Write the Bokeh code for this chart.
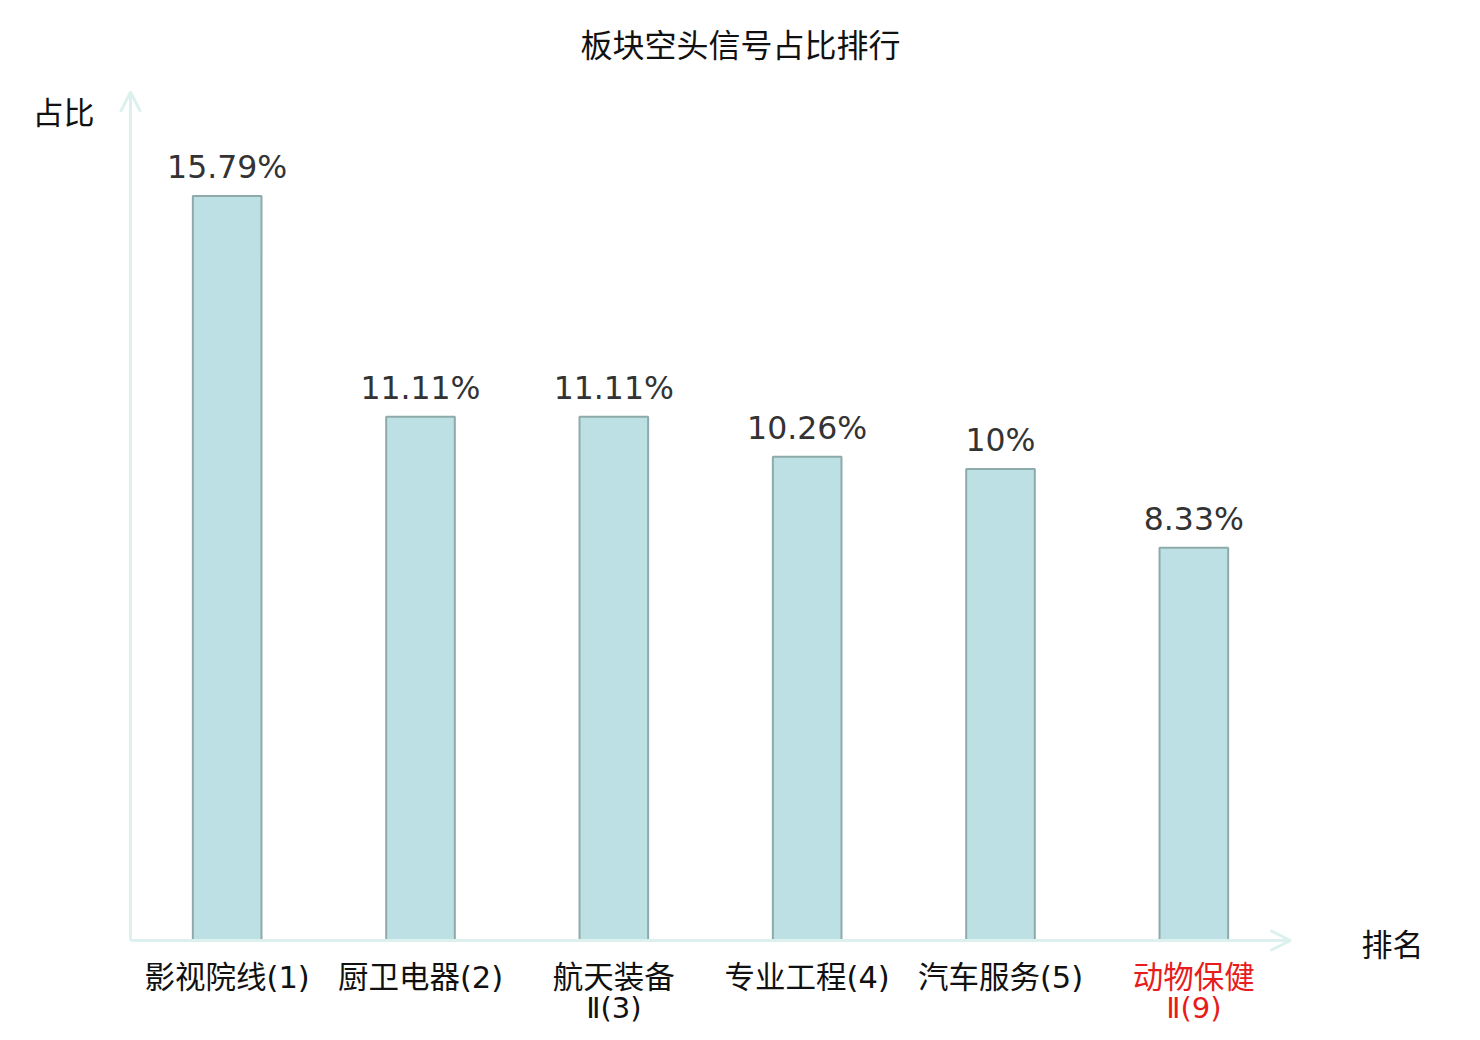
from bokeh.plotting import figure
from bokeh.models import Range1d, Arrow, OpenHead, Label, ColumnDataSource
from bokeh.core.properties import value
from bokeh.embed import file_html
from bokeh.resources import INLINE

# ---- data ----
categories = ["影视院线(1)", "厨卫电器(2)", "航天装备\nⅡ(3)", "专业工程(4)", "汽车服务(5)", "动物保健\nⅡ(9)"]
values = [15.79, 11.11, 11.11, 10.26, 10.0, 8.33]
value_labels = ["15.79%", "11.11%", "11.11%", "10.26%", "10%", "8.33%"]
label_colors = ["#111111", "#111111", "#111111", "#111111", "#111111", "#e81c1c"]
y_max = 18.0
title_text = "板块空头信号占比排行"
y_name = "占比"
x_name = "排名"

# ---- layout ----
W, H = 1464, 1024
ORIG_X, ORIG_Y = 130, 940          # canvas px of the axis origin (from left / from top)
PX_X = 1160 / len(categories)      # px per category band
PX_Y = 47.15                       # px per percentage point

x_range = Range1d(-ORIG_X / PX_X, (W - ORIG_X) / PX_X)
y_range = Range1d(-(H - ORIG_Y) / PX_Y, ORIG_Y / PX_Y)

def sx(px):
    return x_range.start + px / PX_X

def sy(py):
    return y_range.end - py / PX_Y

p = figure(width=W, height=H, x_range=x_range, y_range=y_range,
           output_backend="svg", toolbar_location=None,
           x_axis_location=None, y_axis_location=None,
           min_border=0, min_border_left=0, min_border_right=0,
           min_border_top=0, min_border_bottom=0)
p.outline_line_color = None
p.grid.visible = False
p.background_fill_color = "white"
p.border_fill_color = "white"

xs = [i + 0.5 for i in range(len(categories))]
line1 = [c.split("\n")[0] for c in categories]
line2 = [c.split("\n")[1] if "\n" in c else "" for c in categories]

src = ColumnDataSource(dict(x=xs, top=values, vl=value_labels, l1=line1, l2=line2,
                            lc=label_colors, zero=[0.0] * len(xs)))

AXIS_COLOR = "#dcf1ee"
LABEL_FONT = value("DejaVu Sans, Noto Sans CJK SC")

# axes with arrows
p.add_layout(Arrow(end=OpenHead(size=20, line_color=AXIS_COLOR, line_width=3),
                   x_start=0, y_start=0, x_end=len(categories), y_end=0,
                   line_color=AXIS_COLOR, line_width=3))
p.add_layout(Arrow(end=OpenHead(size=20, line_color=AXIS_COLOR, line_width=3),
                   x_start=0, y_start=0, x_end=0, y_end=y_max,
                   line_color=AXIS_COLOR, line_width=3))

# bars
p.vbar(x="x", top="top", bottom=0, width=0.355, source=src,
       fill_color="#bce0e3", line_color="#8eaaab", line_width=2)

# value labels
p.text(x="x", y="top", text="vl", source=src, text_align="center",
       text_baseline="middle", y_offset=-29,
       text_font=value("DejaVu Sans"), text_font_size="31.5px", text_color="#333333")

# category labels
p.text(x="x", y="zero", text="l1", source=src, text_align="center",
       text_baseline="middle", y_offset=37, text_color="lc",
       text_font=LABEL_FONT, text_font_size="30.5px")
p.text(x="x", y="zero", text="l2", source=src, text_align="center",
       text_baseline="middle", y_offset=67, text_color="lc",
       text_font=LABEL_FONT, text_font_size="29px")

# title and axis names
p.add_layout(Label(x=sx(740), y=sy(42), text=title_text, text_align="center",
                   text_baseline="middle", text_font="Noto Sans CJK SC",
                   text_font_size="32px", text_color="#111111"))
p.add_layout(Label(x=sx(63), y=sy(110), text=y_name, text_align="center",
                   text_baseline="middle", text_font="Noto Sans CJK SC",
                   text_font_size="31px", text_color="#111111"))
p.add_layout(Label(x=sx(1392), y=sy(942), text=x_name, text_align="center",
                   text_baseline="middle", text_font="Noto Sans CJK SC",
                   text_font_size="31px", text_color="#111111"))

open("out.html", "w").write(file_html(p, INLINE))
